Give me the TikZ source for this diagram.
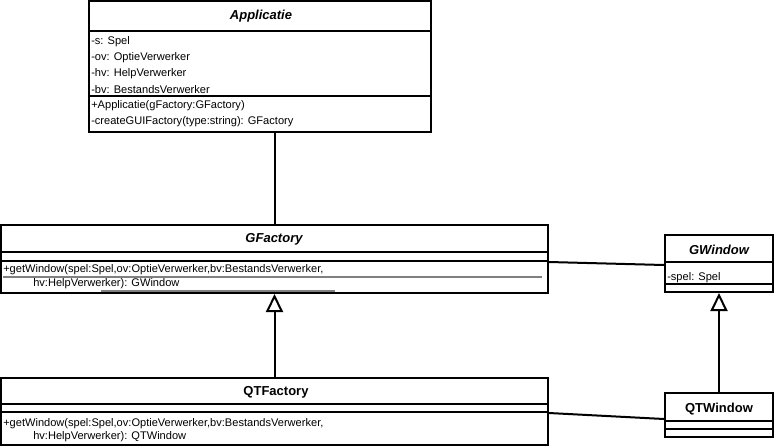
\documentclass[tikz,border=0pt]{standalone}
\usepackage{fontspec}
\setmainfont{Liberation Sans}
\usetikzlibrary{fit,arrows.meta,calc}
\begin{document}
\begin{tikzpicture}[x=0.75pt,y=-0.75pt,
  cls/.style={draw, line width=1.5pt, inner sep=0pt, fit={#1}},
  sep/.style={line width=1.5pt},
  conn/.style={line width=1.5pt},
  inh/.style={-{Triangle[open,length=13.5pt,width=12.75pt]}, fill=white},
  ttlit/.style={font=\fontsize{9.75}{11}\selectfont\bfseries\itshape, inner sep=0pt},
  ttl/.style={font=\fontsize{9.75}{11}\selectfont\bfseries, inner sep=0pt},
  txt/.style={font=\fontsize{8.3}{9}\selectfont, inner sep=0pt, anchor=west},
  uline/.style={line width=0.9pt, gray}]
\useasboundingbox (0,0) rectangle (774,447);

% Applicatie
\node[cls={(89,1)(431,132)}] (app) {};
\draw[sep] ($(app.north west)+(0,31)$) -- ($(app.north east)+(0,31)$);
\draw[sep] ($(app.north west)+(0,96)$) -- ($(app.north east)+(0,96)$);
\node[ttlit] (appt) at (261,16) {Applicatie};
\node[txt] (a1) at (91,42) {-s: Spel};
\node[txt] (a2) at (91,58) {-ov: OptieVerwerker};
\node[txt] (a3) at (91,74) {-hv: HelpVerwerker};
\node[txt] (a4) at (91,90) {-bv: BestandsVerwerker};
\node[txt] (a5) at (91,106) {+Applicatie(gFactory:GFactory)};
\node[txt] (a6) at (91,122) {-createGUIFactory(type:string): GFactory};

% GFactory
\node[cls={(1,225)(548,293)}] (gf) {};
\draw[sep] ($(gf.north west)+(0,28)$) -- ($(gf.north east)+(0,28)$);
\draw[sep] ($(gf.north west)+(0,37)$) -- ($(gf.north east)+(0,37)$);
\node[ttlit] (gft) at (274,239) {GFactory};
\node[txt] (g1) at (3,270) {+getWindow(spel:Spel,ov:OptieVerwerker,bv:BestandsVerwerker,};
\node[txt] (g2) at (33,284) {hv:HelpVerwerker): GWindow};
\draw[uline] ($(g1.south west)+(0,1.5)$) -- ($(gf.east |- g1.south)+(-7,1.5)$);
\coordinate (u2a) at (101,291);
\coordinate (u2b) at (335,291);
\draw[uline] (u2a) -- (u2b);

% GWindow
\node[cls={(665,235)(773,292)}] (gw) {};
\draw[sep] ($(gw.north west)+(0,28)$) -- ($(gw.north east)+(0,28)$);
\draw[sep] ($(gw.north west)+(0,50)$) -- ($(gw.north east)+(0,50)$);
\node[ttlit] (gwt) at (719,250) {GWindow};
\node[txt] (w1) at (667,278) {-spel: Spel};

% QTFactory
\node[cls={(1,378)(548,445)}] (qf) {};
\draw[sep] ($(qf.north west)+(0,27)$) -- ($(qf.north east)+(0,27)$);
\draw[sep] ($(qf.north west)+(0,35)$) -- ($(qf.north east)+(0,35)$);
\node[ttl] (qft) at (276,392) {QTFactory};
\node[txt] (q1) at (3,424) {+getWindow(spel:Spel,ov:OptieVerwerker,bv:BestandsVerwerker,};
\node[txt] (q2) at (33,437) {hv:HelpVerwerker): QTWindow};

% QTWindow
\node[cls={(665,393)(773,437)}] (qw) {};
\draw[sep] ($(qw.north west)+(0,29)$) -- ($(qw.north east)+(0,29)$);
\draw[sep] ($(qw.north west)+(0,37)$) -- ($(qw.north east)+(0,37)$);
\node[ttl] (qwt) at (719,409) {QTWindow};

% connectors
\draw[conn] (gf.north) -- (gf.north |- app.south);
\draw[conn] ($(gf.east)+(0,3)$) -- ($(gw.west)+(0,1.5)$);
\draw[conn] ($(qf.east)+(0,1.5)$) -- ($(qw.west)+(0,4)$);
\draw[conn, inh] (qf.north) -- (gf.south);
\draw[conn, inh] (qw.north) -- (qw.north |- gw.south);
\end{tikzpicture}
\end{document}
